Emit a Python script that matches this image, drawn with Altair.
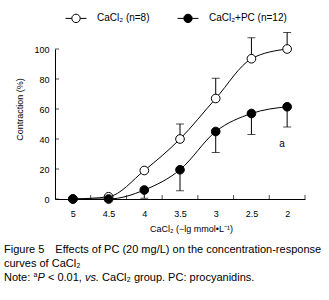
import altair as alt
import pandas as pd

# ---- data ----
x_levels = [5, 4.5, 4, 3.5, 3, 2.5, 2]
cacl2_mean = [0, 1.5, 19, 40, 67, 93.5, 100]
cacl2_err = [0, 0, 0, 10, 13.5, 14, 11]      # drawn upward
pc_mean = [0, 0, 6, 19.5, 45, 57, 61.5]
pc_err = [0, 0, 5.5, 14, 14, 14, 13.5]        # drawn downward
series_names = ["CaCl\u2082 (n=8)", "CaCl\u2082+PC (n=12)"]
x_label_values = [5, 4.5, 4, 3.5, 3, 2.5, 2]
x_tick_values = [4.75, 4.25, 3.75, 3.25, 2.75, 2.25, 1.75]
y_tick_values = [0, 20, 40, 60, 80, 100]
sig_mark = ["a"]
sig_x = [2.07]
sig_y = [37]
caption_line1 = ["Figure 5\u2002\u2002Effects of PC (20 mg/L) on the concentration-response"]
caption_line2 = ["curves of CaCl\u2082"]
caption_line3 = ["Note:", "a", "P", "< 0.01,", "vs.", "CaCl\u2082 group. PC: procyanidins."]

rows = []
for x, m, e in zip(x_levels, cacl2_mean, cacl2_err):
    rows.append({"group": series_names[0], "x": x, "y": m, "end": m + e, "err": e})
for x, m, e in zip(x_levels, pc_mean, pc_err):
    rows.append({"group": series_names[1], "x": x, "y": m, "end": m - e, "err": e})
df = pd.DataFrame(rows)
df_err = df[df["err"] > 0]
df_xticks = pd.DataFrame({"x": x_tick_values})
df_yticks = pd.DataFrame({"y": y_tick_values})

FONT = "Liberation Sans"
X_MIN, X_MAX = 1.75, 5.25

xscale = alt.Scale(domain=[X_MIN, X_MAX], reverse=True, nice=False, zero=False)
yscale = alt.Scale(domain=[0, 100], nice=False, zero=False)

bottom_axis = alt.Axis(orient="bottom", values=x_label_values, tickCount=len(x_label_values),
                       ticks=False, format="~g",
                       grid=False, labelFont=FONT, labelFontSize=9, labelColor="black",
                       labelPadding=10, labelOverlap=False, domainColor="black",
                       domainWidth=1,
                       title="CaCl\u2082 (\u2212lg mmol\u2022L\u207b\u00b9)", titleFont=FONT,
                       titleFontSize=9, titleFontWeight="normal", titleColor="black",
                       titleX=136, titleY=29, titleBaseline="middle")
y_axis = alt.Axis(orient="left", values=y_tick_values, tickCount=len(y_tick_values),
                  grid=False, ticks=False,
                  labelFont=FONT, labelFontSize=9, labelColor="black",
                  labelPadding=6, labelOverlap=False, domainColor="black",
                  title="Contraction (%)",
                  titleFont=FONT, titleFontSize=9, titleFontWeight="normal",
                  titleColor="black", titleX=-36, titleY=60, titleAngle=270,
                  titleBaseline="middle", titleAlign="center")

lines = alt.Chart(df).mark_line(interpolate="monotone", color="black", strokeWidth=1).encode(
    x=alt.X("x:Q", scale=xscale, axis=bottom_axis),
    y=alt.Y("y:Q", scale=yscale, axis=y_axis),
    detail="group:N",
)

# inward-pointing axis ticks
x_inward = alt.Chart(df_xticks).mark_tick(orient="vertical", size=4, thickness=1,
                                          color="black", yOffset=-2).encode(
    x=alt.X("x:Q", scale=xscale),
    y=alt.Y(datum=0, type="quantitative", scale=yscale),
)
y_inward = alt.Chart(df_yticks).mark_tick(orient="horizontal", size=4, thickness=1,
                                          color="black", xOffset=2).encode(
    x=alt.X(datum=X_MAX, type="quantitative", scale=xscale),
    y=alt.Y("y:Q", scale=yscale),
)

err_rules = alt.Chart(df_err).mark_rule(color="black", strokeWidth=1).encode(
    x=alt.X("x:Q", scale=xscale),
    y=alt.Y("y:Q", scale=yscale),
    y2="end:Q",
)

caps = alt.Chart(df_err).mark_tick(orient="horizontal", size=8, thickness=1, color="black").encode(
    x=alt.X("x:Q", scale=xscale),
    y=alt.Y("end:Q", scale=yscale),
)

path = "M-1,0L-0.4,0M0.4,0L1,0M-0.4,0A0.4,0.4,0,1,1,0.4,0A0.4,0.4,0,1,1,-0.4,0Z"
points = alt.Chart(df).mark_point(shape="circle", filled=True, size=75, stroke="black",
                                  strokeWidth=1, opacity=1).encode(
    x=alt.X("x:Q", scale=xscale),
    y=alt.Y("y:Q", scale=yscale),
    fill=alt.Fill("group:N", scale=alt.Scale(domain=series_names, range=["white", "black"]),
                  legend=alt.Legend(orient="none", direction="horizontal", legendX=10,
                                    legendY=-42, title=None, symbolType=path,
                                    symbolSize=441, symbolStrokeColor="black",
                                    symbolStrokeWidth=1, labelFont=FONT, labelFontSize=10,
                                    labelColor="black", labelOffset=10, columnPadding=25)),
)

sig_df = pd.DataFrame({"t": sig_mark, "x": sig_x, "y": sig_y})
sig = alt.Chart(sig_df).mark_text(font=FONT, fontSize=10, color="black").encode(
    x=alt.X("x:Q", scale=xscale),
    y=alt.Y("y:Q", scale=yscale),
    text="t:N",
)


def cap_text(txt, x, y, size=11, style="normal"):
    return alt.Chart(pd.DataFrame({"t": [txt]})).mark_text(
        font=FONT, fontSize=size, fontStyle=style, align="left",
        baseline="middle", color="black").encode(
        text="t:N", x=alt.value(x), y=alt.value(y))


L = -51
captions = [
    cap_text(caption_line1[0], L, 201),
    cap_text(caption_line2[0], L, 215),
    cap_text(caption_line3[0], L, 229),
    cap_text(caption_line3[1], L + 29.4, 226, size=7),
    cap_text(caption_line3[2], L + 33.5, 229, style="italic"),
    cap_text(caption_line3[3], L + 43.9, 229),
    cap_text(caption_line3[4], L + 80.9, 229, style="italic"),
    cap_text(caption_line3[5], L + 98.1, 229),
]

chart = alt.layer(lines, x_inward, y_inward, err_rules, caps, points, sig, *captions).properties(
    width=250, height=150,
    background="white",
    autosize=alt.AutoSizeParams(type="none"),
    padding={"left": 55, "top": 49, "right": 24, "bottom": 101},
).configure_view(stroke=None)

chart.save("out.html", embed_options={"renderer": "svg", "actions": False})
